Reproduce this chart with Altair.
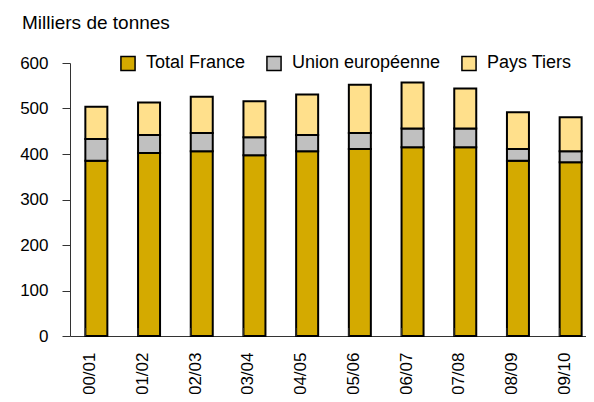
import altair as alt
import pandas as pd

campagnes = ["00/01", "01/02", "02/03", "03/04", "04/05", "05/06", "06/07", "07/08", "08/09", "09/10"]
total_france = [385, 402, 406, 397, 406, 411, 415, 415, 385, 382]
union_europeenne = [48, 40, 40, 40, 36, 35, 41, 41, 26, 24]
pays_tiers = [71, 71, 80, 79, 89, 106, 101, 88, 81, 75]

series = ["Total France", "Union européenne", "Pays Tiers"]
colors = ["#D4AA00", "#C0C0C0", "#FFE08C"]

rows = []
for i, c in enumerate(campagnes):
    for k, (name, vals) in enumerate(zip(series, [total_france, union_europeenne, pays_tiers])):
        rows.append({"campagne": c, "serie": name, "valeur": vals[i], "ordre": k})
df = pd.DataFrame(rows)
ticks_df = pd.DataFrame({"campagne": campagnes})

FONT = "Liberation Sans"

xscale = alt.Scale(domain=campagnes, paddingInner=0.58, paddingOuter=0.29)

bars = alt.Chart(df).mark_bar(size=22, stroke="black", strokeWidth=2).encode(
    x=alt.X("campagne:N", sort=campagnes, scale=xscale,
            axis=alt.Axis(title=None, labelAngle=-90, labelAlign="right", labelBaseline="middle",
                          labelPadding=16, tickSize=0, labelFontSize=17, labelFont=FONT,
                          labelColor="black", domainColor="#333", domainWidth=1, labelOffset=-6)),
    y=alt.Y("valeur:Q", stack="zero", scale=alt.Scale(domain=[0, 600], nice=False),
            axis=alt.Axis(title=None, values=[0, 100, 200, 300, 400, 500, 600], tickSize=8,
                          labelPadding=14, labelFontSize=17, labelFont=FONT, labelColor="black",
                          domainColor="#333", tickColor="#333", grid=False)),
    color=alt.Color("serie:N", scale=alt.Scale(domain=series, range=colors),
                    legend=alt.Legend(title=None, orient="none", direction="horizontal",
                                      legendX=49, legendY=-9, symbolType="square",
                                      symbolSize=200, symbolStrokeColor="black",
                                      symbolStrokeWidth=1.5, symbolOpacity=1,
                                      labelFontSize=18, labelFont=FONT, labelColor="black",
                                      labelOffset=9, columnPadding=17)),
    order=alt.Order("ordre:Q", sort="ascending"),
)

ticks = alt.Chart(ticks_df).mark_rule(color="#333", strokeWidth=1).encode(
    x=alt.X("campagne:N", sort=campagnes, scale=xscale, bandPosition=0),
    y=alt.value(273),
    y2=alt.value(265),
)

chart = alt.layer(bars, ticks).properties(
    width=527,
    height=273,
    autosize=alt.AutoSizeParams(type="none"),
    padding={"left": 62, "top": 55, "right": -11, "bottom": 58},
    title=alt.TitleParams("Milliers de tonnes", anchor="start", frame="group", dx=-48,
                          offset=21, fontSize=19, font=FONT, fontWeight="normal", color="black"),
).configure_view(stroke=None)

chart.save("out.html", embed_options={"renderer": "svg", "actions": False})
